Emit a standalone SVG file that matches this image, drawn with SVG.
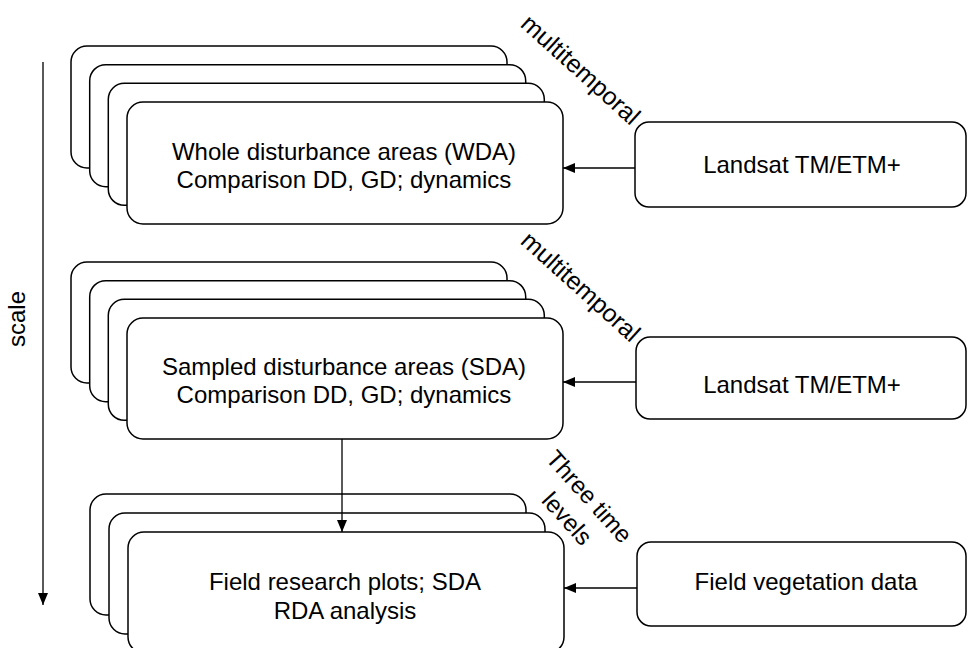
<svg xmlns="http://www.w3.org/2000/svg" width="969" height="648" viewBox="0 0 969 648">
<style>
.box{fill:#fff;stroke:#000;stroke-width:1.5}
.t{font-family:"Liberation Sans",Arial,sans-serif;font-size:24px;fill:#000}
.m{text-anchor:middle}
.ln{stroke:#000;stroke-width:1.3;fill:none}
</style>
<defs>
<marker id="ah" viewBox="0 0 12 10" refX="12" refY="5" markerWidth="12" markerHeight="10" orient="auto" markerUnits="userSpaceOnUse">
<path d="M0,0 L12,5 L0,10 z" fill="#000"/>
</marker>
</defs>
<rect width="969" height="648" fill="#fff"/>

<g id="wda">
<rect class="box" x="71" y="46" width="436" height="122" rx="16"/>
<rect class="box" x="89.7" y="64.7" width="436" height="122" rx="16"/>
<rect class="box" x="108.3" y="83.3" width="436" height="122" rx="16"/>
<rect class="box" x="127" y="102" width="436" height="122" rx="16"/>
<text class="t m" x="344" y="160">Whole disturbance areas (WDA)</text>
<text class="t m" x="344" y="188">Comparison DD, GD; dynamics</text>
</g>

<g id="sda">
<rect class="box" x="71" y="262" width="436" height="121" rx="16"/>
<rect class="box" x="89.7" y="280.7" width="436" height="121" rx="16"/>
<rect class="box" x="108.3" y="299.3" width="436" height="121" rx="16"/>
<rect class="box" x="127" y="318" width="436" height="121" rx="16"/>
<text class="t m" x="344" y="375">Sampled disturbance areas (SDA)</text>
<text class="t m" x="344" y="403">Comparison DD, GD; dynamics</text>
</g>

<g id="field">
<rect class="box" x="90" y="494" width="436" height="121" rx="16"/>
<rect class="box" x="109" y="513" width="436" height="121" rx="16"/>
<rect class="box" x="128" y="532" width="436" height="121" rx="16"/>
<text class="t m" x="345" y="590">Field research plots; SDA</text>
<text class="t m" x="345" y="619">RDA analysis</text>
</g>

<g id="landsat1">
<rect class="box" x="635" y="122" width="331" height="85" rx="14"/>
<text class="t m" x="802" y="173">Landsat TM/ETM+</text>
</g>

<g id="landsat2">
<rect class="box" x="636" y="337" width="330" height="82" rx="14"/>
<text class="t m" x="802" y="393">Landsat TM/ETM+</text>
</g>

<g id="fieldveg">
<rect class="box" x="637" y="542" width="329" height="84" rx="14"/>
<text class="t m" x="806" y="590">Field vegetation data</text>
</g>

<g id="labels">
<text class="t m" transform="translate(575,76) rotate(42)" style="font-size:25px">multitemporal</text>
<text class="t m" transform="translate(575,293) rotate(42)" style="font-size:25px">multitemporal</text>
<text class="t m" transform="translate(583,502) rotate(48)">Three time</text>
<text class="t m" transform="translate(561,524) rotate(48)">levels</text>
<text class="t m" transform="translate(25,319) rotate(-90)">scale</text>
</g>

<g id="connectors">
<line class="ln" x1="635" y1="168" x2="563" y2="168" marker-end="url(#ah)"/>
<line class="ln" x1="636" y1="382" x2="563" y2="382" marker-end="url(#ah)"/>
<line class="ln" x1="637" y1="588" x2="564" y2="588" marker-end="url(#ah)"/>
<line class="ln" x1="342" y1="439" x2="342" y2="532" marker-end="url(#ah)"/>
<line class="ln" x1="43" y1="62" x2="43" y2="605" marker-end="url(#ah)"/>
</g>
</svg>
